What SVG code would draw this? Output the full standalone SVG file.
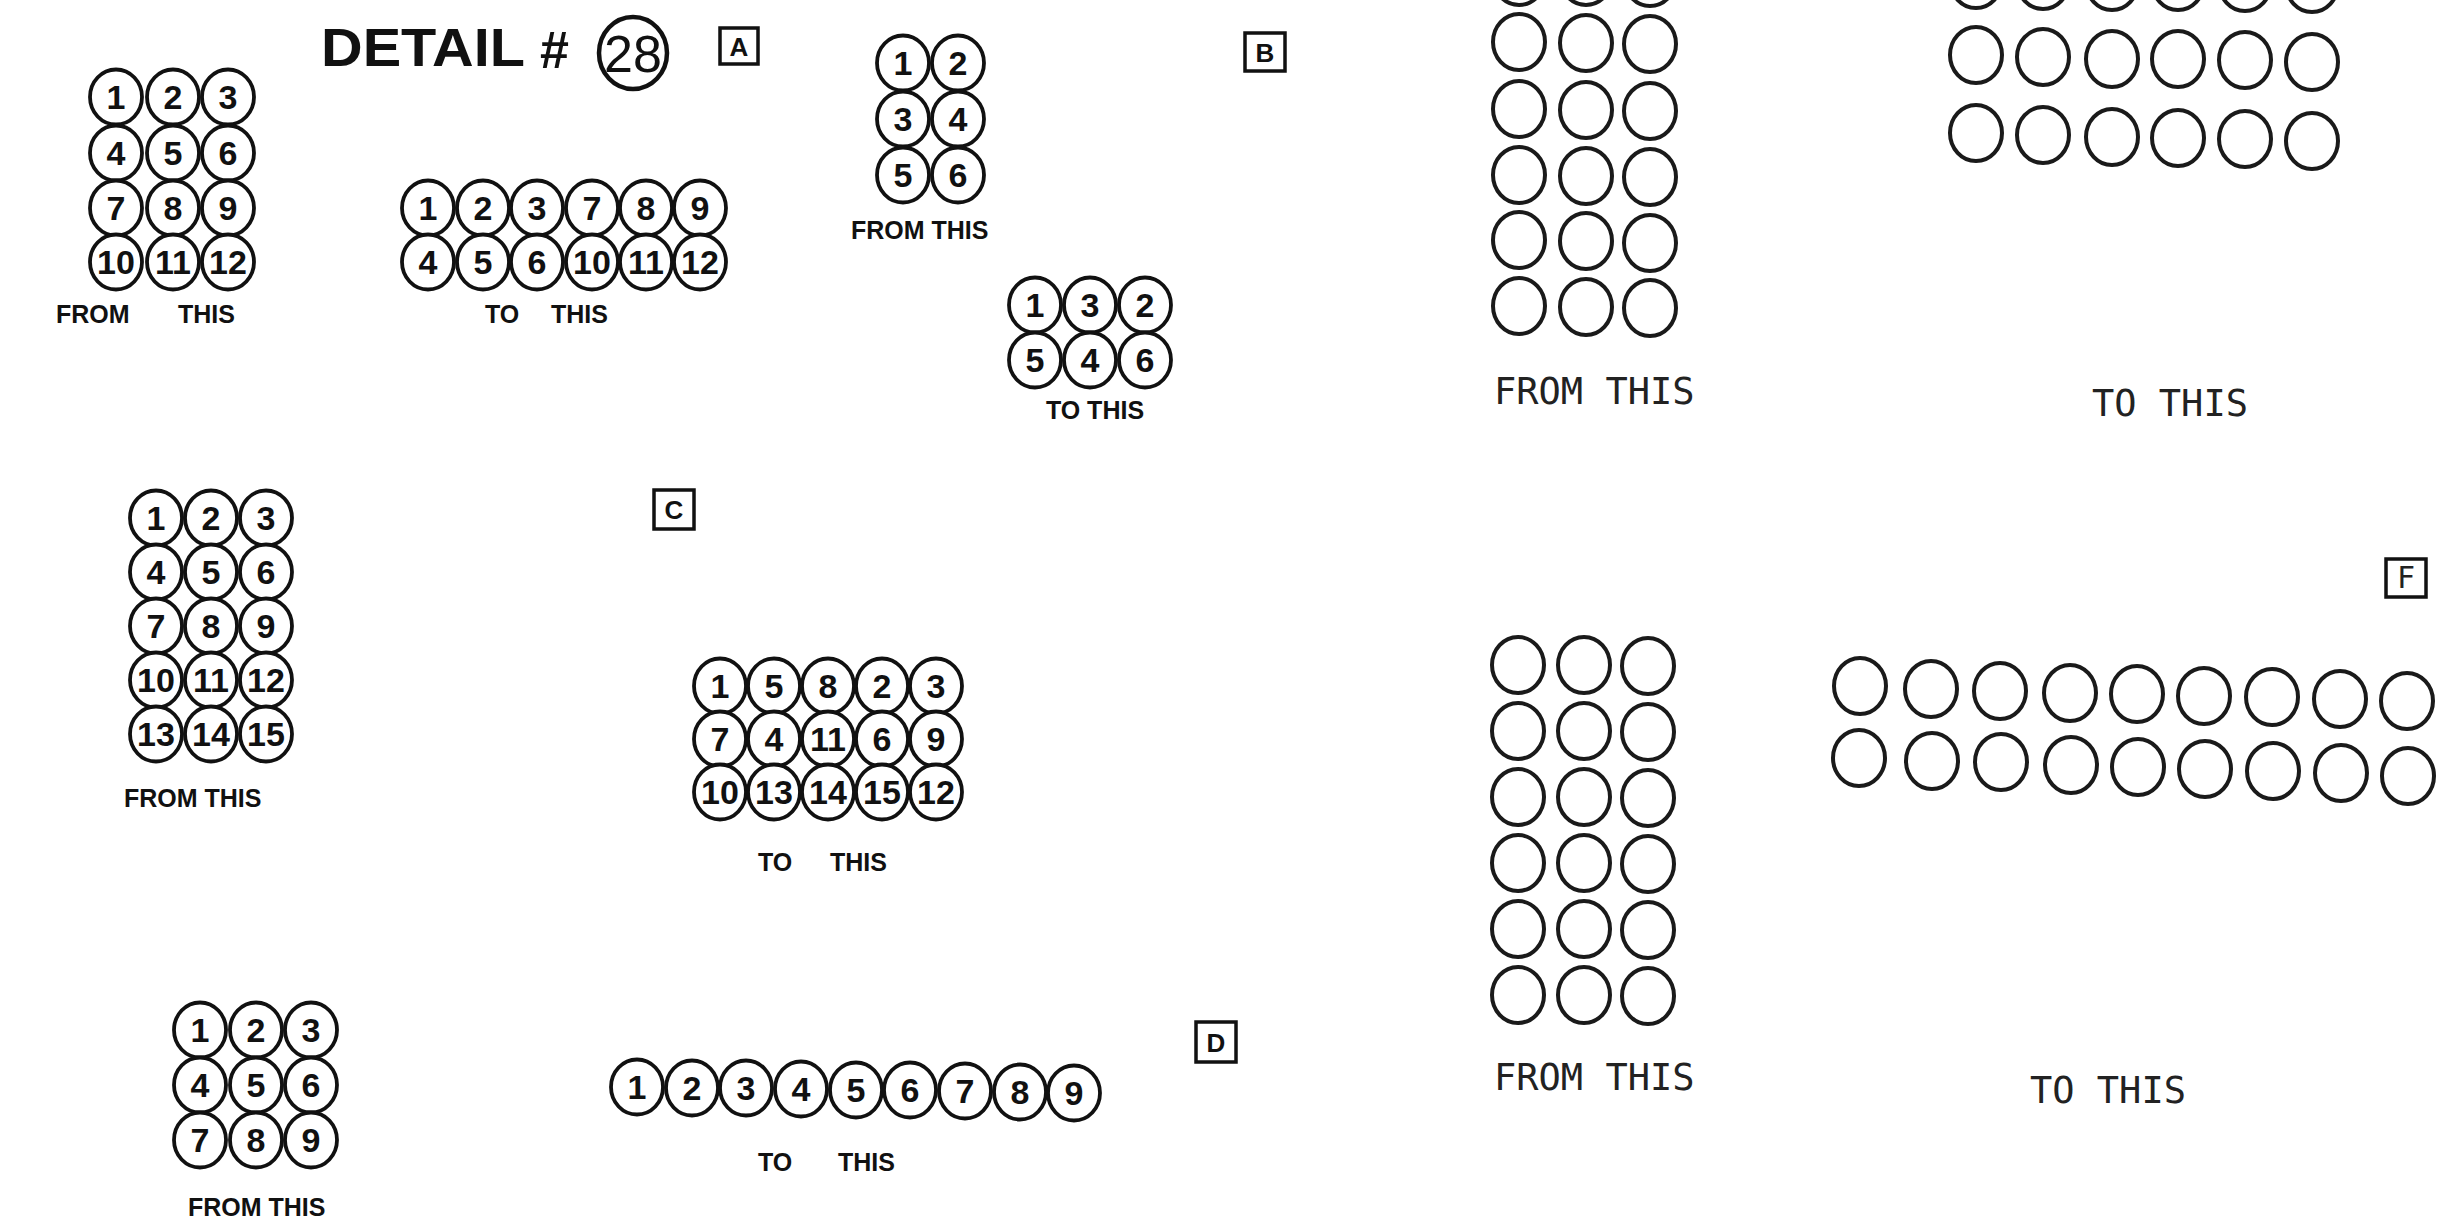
<svg xmlns="http://www.w3.org/2000/svg" width="2457" height="1220" viewBox="0 0 2457 1220">
<style>
.c{fill:#fff;stroke:#111;stroke-width:3.8;rx:26px;ry:27.5px}
.e{fill:none;stroke:#1a1a1a;stroke-width:4;rx:26px;ry:28px}
.n{font-family:"Liberation Sans",Arial,sans-serif;font-weight:bold;font-size:34px;text-anchor:middle;fill:#111}
.lb{font-family:"Liberation Sans",Arial,sans-serif;font-weight:bold;font-size:25px;fill:#111}
.pl{font-family:"DejaVu Sans Mono","Liberation Mono",monospace;font-size:37px;fill:#222}
.bx{fill:none;stroke:#111;stroke-width:3.5}
.bt{font-family:"Liberation Sans",Arial,sans-serif;font-weight:bold;font-size:26px;text-anchor:middle;fill:#111}
</style>
<rect width="2457" height="1220" fill="#fff"/>
<g id="connectors"/>

<g id="title">
<text x="321" y="66" font-family="Liberation Sans,Arial,sans-serif" font-weight="bold" font-size="53" textLength="204" lengthAdjust="spacingAndGlyphs" fill="#111">DETAIL</text>
<text x="540" y="68" font-family="Liberation Sans,Arial,sans-serif" font-weight="bold" font-size="52" fill="#111">#</text>
<ellipse cx="633" cy="53" rx="34" ry="36" fill="none" stroke="#111" stroke-width="4.5"/>
<text x="633" y="72" font-family="Liberation Sans,Arial,sans-serif" font-size="52" text-anchor="middle" fill="#111">28</text>
</g>

<g id="box-a"><rect class="bx" x="720" y="28" width="38" height="36"/><text class="bt" x="739" y="56">A</text></g>
<g id="box-b"><rect class="bx" x="1245" y="33" width="40" height="38"/><text class="bt" x="1265" y="62">B</text></g>
<g id="box-c"><rect class="bx" x="654" y="490" width="40" height="39"/><text class="bt" x="674" y="519">C</text></g>
<g id="box-d"><rect class="bx" x="1196" y="1022" width="40" height="40"/><text class="bt" x="1216" y="1052">D</text></g>
<g id="box-f"><rect class="bx" x="2386" y="559" width="40" height="38" stroke-width="3"/><text x="2406" y="588" font-family="DejaVu Sans Mono,monospace" font-size="30" text-anchor="middle" fill="#222">F</text></g>

<g id="a-from">
<g id="a-from-1"><ellipse class="c" cx="116" cy="97"/><text class="n" x="116" y="109">1</text></g>
<g id="a-from-2"><ellipse class="c" cx="173" cy="97"/><text class="n" x="173" y="109">2</text></g>
<g id="a-from-3"><ellipse class="c" cx="228" cy="97"/><text class="n" x="228" y="109">3</text></g>
<g id="a-from-4"><ellipse class="c" cx="116" cy="153"/><text class="n" x="116" y="165">4</text></g>
<g id="a-from-5"><ellipse class="c" cx="173" cy="153"/><text class="n" x="173" y="165">5</text></g>
<g id="a-from-6"><ellipse class="c" cx="228" cy="153"/><text class="n" x="228" y="165">6</text></g>
<g id="a-from-7"><ellipse class="c" cx="116" cy="208"/><text class="n" x="116" y="220">7</text></g>
<g id="a-from-8"><ellipse class="c" cx="173" cy="208"/><text class="n" x="173" y="220">8</text></g>
<g id="a-from-9"><ellipse class="c" cx="228" cy="208"/><text class="n" x="228" y="220">9</text></g>
<g id="a-from-10"><ellipse class="c" cx="116" cy="262"/><text class="n" x="116" y="274">10</text></g>
<g id="a-from-11"><ellipse class="c" cx="173" cy="262"/><text class="n" x="173" y="274">11</text></g>
<g id="a-from-12"><ellipse class="c" cx="228" cy="262"/><text class="n" x="228" y="274">12</text></g>
<text class="lb" x="56" y="323">FROM</text><text class="lb" x="178" y="323">THIS</text>
</g>

<g id="a-to">
<g id="a-to-1"><ellipse class="c" cx="428" cy="208"/><text class="n" x="428" y="220">1</text></g>
<g id="a-to-2"><ellipse class="c" cx="483" cy="208"/><text class="n" x="483" y="220">2</text></g>
<g id="a-to-3"><ellipse class="c" cx="537" cy="208"/><text class="n" x="537" y="220">3</text></g>
<g id="a-to-7"><ellipse class="c" cx="592" cy="208"/><text class="n" x="592" y="220">7</text></g>
<g id="a-to-8"><ellipse class="c" cx="646" cy="208"/><text class="n" x="646" y="220">8</text></g>
<g id="a-to-9"><ellipse class="c" cx="700" cy="208"/><text class="n" x="700" y="220">9</text></g>
<g id="a-to-4"><ellipse class="c" cx="428" cy="262"/><text class="n" x="428" y="274">4</text></g>
<g id="a-to-5"><ellipse class="c" cx="483" cy="262"/><text class="n" x="483" y="274">5</text></g>
<g id="a-to-6"><ellipse class="c" cx="537" cy="262"/><text class="n" x="537" y="274">6</text></g>
<g id="a-to-10"><ellipse class="c" cx="592" cy="262"/><text class="n" x="592" y="274">10</text></g>
<g id="a-to-11"><ellipse class="c" cx="646" cy="262"/><text class="n" x="646" y="274">11</text></g>
<g id="a-to-12"><ellipse class="c" cx="700" cy="262"/><text class="n" x="700" y="274">12</text></g>
<text class="lb" x="485" y="323">TO</text><text class="lb" x="551" y="323">THIS</text>
</g>

<g id="b-from">
<g id="b-from-1"><ellipse class="c" cx="903" cy="63"/><text class="n" x="903" y="75">1</text></g>
<g id="b-from-2"><ellipse class="c" cx="958" cy="63"/><text class="n" x="958" y="75">2</text></g>
<g id="b-from-3"><ellipse class="c" cx="903" cy="119"/><text class="n" x="903" y="131">3</text></g>
<g id="b-from-4"><ellipse class="c" cx="958" cy="119"/><text class="n" x="958" y="131">4</text></g>
<g id="b-from-5"><ellipse class="c" cx="903" cy="175"/><text class="n" x="903" y="187">5</text></g>
<g id="b-from-6"><ellipse class="c" cx="958" cy="175"/><text class="n" x="958" y="187">6</text></g>
<text class="lb" x="851" y="239" font-size="26">FROM THIS</text>
</g>

<g id="b-to">
<g id="b-to-1"><ellipse class="c" cx="1035" cy="305"/><text class="n" x="1035" y="317">1</text></g>
<g id="b-to-3"><ellipse class="c" cx="1090" cy="305"/><text class="n" x="1090" y="317">3</text></g>
<g id="b-to-2"><ellipse class="c" cx="1145" cy="305"/><text class="n" x="1145" y="317">2</text></g>
<g id="b-to-5"><ellipse class="c" cx="1035" cy="360"/><text class="n" x="1035" y="372">5</text></g>
<g id="b-to-4"><ellipse class="c" cx="1090" cy="360"/><text class="n" x="1090" y="372">4</text></g>
<g id="b-to-6"><ellipse class="c" cx="1145" cy="360"/><text class="n" x="1145" y="372">6</text></g>
<text class="lb" x="1095" y="419" text-anchor="middle">TO THIS</text>
</g>

<g id="c-from">
<g id="c-from-1"><ellipse class="c" cx="156" cy="518"/><text class="n" x="156" y="530">1</text></g>
<g id="c-from-2"><ellipse class="c" cx="211" cy="518"/><text class="n" x="211" y="530">2</text></g>
<g id="c-from-3"><ellipse class="c" cx="266" cy="518"/><text class="n" x="266" y="530">3</text></g>
<g id="c-from-4"><ellipse class="c" cx="156" cy="572"/><text class="n" x="156" y="584">4</text></g>
<g id="c-from-5"><ellipse class="c" cx="211" cy="572"/><text class="n" x="211" y="584">5</text></g>
<g id="c-from-6"><ellipse class="c" cx="266" cy="572"/><text class="n" x="266" y="584">6</text></g>
<g id="c-from-7"><ellipse class="c" cx="156" cy="626"/><text class="n" x="156" y="638">7</text></g>
<g id="c-from-8"><ellipse class="c" cx="211" cy="626"/><text class="n" x="211" y="638">8</text></g>
<g id="c-from-9"><ellipse class="c" cx="266" cy="626"/><text class="n" x="266" y="638">9</text></g>
<g id="c-from-10"><ellipse class="c" cx="156" cy="680"/><text class="n" x="156" y="692">10</text></g>
<g id="c-from-11"><ellipse class="c" cx="211" cy="680"/><text class="n" x="211" y="692">11</text></g>
<g id="c-from-12"><ellipse class="c" cx="266" cy="680"/><text class="n" x="266" y="692">12</text></g>
<g id="c-from-13"><ellipse class="c" cx="156" cy="734"/><text class="n" x="156" y="746">13</text></g>
<g id="c-from-14"><ellipse class="c" cx="211" cy="734"/><text class="n" x="211" y="746">14</text></g>
<g id="c-from-15"><ellipse class="c" cx="266" cy="734"/><text class="n" x="266" y="746">15</text></g>
<text class="lb" x="124" y="807">FROM THIS</text>
</g>

<g id="c-to">
<g id="c-to-1"><ellipse class="c" cx="720" cy="686"/><text class="n" x="720" y="698">1</text></g>
<g id="c-to-5"><ellipse class="c" cx="774" cy="686"/><text class="n" x="774" y="698">5</text></g>
<g id="c-to-8"><ellipse class="c" cx="828" cy="686"/><text class="n" x="828" y="698">8</text></g>
<g id="c-to-2"><ellipse class="c" cx="882" cy="686"/><text class="n" x="882" y="698">2</text></g>
<g id="c-to-3"><ellipse class="c" cx="936" cy="686"/><text class="n" x="936" y="698">3</text></g>
<g id="c-to-7"><ellipse class="c" cx="720" cy="739"/><text class="n" x="720" y="751">7</text></g>
<g id="c-to-4"><ellipse class="c" cx="774" cy="739"/><text class="n" x="774" y="751">4</text></g>
<g id="c-to-11"><ellipse class="c" cx="828" cy="739"/><text class="n" x="828" y="751">11</text></g>
<g id="c-to-6"><ellipse class="c" cx="882" cy="739"/><text class="n" x="882" y="751">6</text></g>
<g id="c-to-9"><ellipse class="c" cx="936" cy="739"/><text class="n" x="936" y="751">9</text></g>
<g id="c-to-10"><ellipse class="c" cx="720" cy="792"/><text class="n" x="720" y="804">10</text></g>
<g id="c-to-13"><ellipse class="c" cx="774" cy="792"/><text class="n" x="774" y="804">13</text></g>
<g id="c-to-14"><ellipse class="c" cx="828" cy="792"/><text class="n" x="828" y="804">14</text></g>
<g id="c-to-15"><ellipse class="c" cx="882" cy="792"/><text class="n" x="882" y="804">15</text></g>
<g id="c-to-12"><ellipse class="c" cx="936" cy="792"/><text class="n" x="936" y="804">12</text></g>
<text class="lb" x="758" y="871">TO</text><text class="lb" x="830" y="871">THIS</text>
</g>

<g id="d-from">
<g id="d-from-1"><ellipse class="c" cx="200" cy="1030"/><text class="n" x="200" y="1042">1</text></g>
<g id="d-from-2"><ellipse class="c" cx="256" cy="1030"/><text class="n" x="256" y="1042">2</text></g>
<g id="d-from-3"><ellipse class="c" cx="311" cy="1030"/><text class="n" x="311" y="1042">3</text></g>
<g id="d-from-4"><ellipse class="c" cx="200" cy="1085"/><text class="n" x="200" y="1097">4</text></g>
<g id="d-from-5"><ellipse class="c" cx="256" cy="1085"/><text class="n" x="256" y="1097">5</text></g>
<g id="d-from-6"><ellipse class="c" cx="311" cy="1085"/><text class="n" x="311" y="1097">6</text></g>
<g id="d-from-7"><ellipse class="c" cx="200" cy="1140"/><text class="n" x="200" y="1152">7</text></g>
<g id="d-from-8"><ellipse class="c" cx="256" cy="1140"/><text class="n" x="256" y="1152">8</text></g>
<g id="d-from-9"><ellipse class="c" cx="311" cy="1140"/><text class="n" x="311" y="1152">9</text></g>
<text class="lb" x="188" y="1216" font-size="26">FROM THIS</text>
</g>

<g id="d-to">
<g id="d-to-1"><ellipse class="c" cx="637" cy="1087"/><text class="n" x="637" y="1099">1</text></g>
<g id="d-to-2"><ellipse class="c" cx="692" cy="1088"/><text class="n" x="692" y="1100">2</text></g>
<g id="d-to-3"><ellipse class="c" cx="746" cy="1088"/><text class="n" x="746" y="1100">3</text></g>
<g id="d-to-4"><ellipse class="c" cx="801" cy="1089"/><text class="n" x="801" y="1101">4</text></g>
<g id="d-to-5"><ellipse class="c" cx="856" cy="1090"/><text class="n" x="856" y="1102">5</text></g>
<g id="d-to-6"><ellipse class="c" cx="910" cy="1090"/><text class="n" x="910" y="1102">6</text></g>
<g id="d-to-7"><ellipse class="c" cx="965" cy="1091"/><text class="n" x="965" y="1103">7</text></g>
<g id="d-to-8"><ellipse class="c" cx="1020" cy="1092"/><text class="n" x="1020" y="1104">8</text></g>
<g id="d-to-9"><ellipse class="c" cx="1074" cy="1093"/><text class="n" x="1074" y="1105">9</text></g>
<text class="lb" x="758" y="1171">TO</text><text class="lb" x="838" y="1171">THIS</text>
</g>

<g id="e-from">
<ellipse class="e" cx="1519" cy="-23"/><ellipse class="e" cx="1586" cy="-23"/><ellipse class="e" cx="1650" cy="-22"/>
<ellipse class="e" cx="1519" cy="42"/><ellipse class="e" cx="1586" cy="43"/><ellipse class="e" cx="1650" cy="44"/>
<ellipse class="e" cx="1519" cy="109"/><ellipse class="e" cx="1586" cy="110"/><ellipse class="e" cx="1650" cy="111"/>
<ellipse class="e" cx="1519" cy="175"/><ellipse class="e" cx="1586" cy="176"/><ellipse class="e" cx="1650" cy="177"/>
<ellipse class="e" cx="1519" cy="240"/><ellipse class="e" cx="1586" cy="241"/><ellipse class="e" cx="1650" cy="243"/>
<ellipse class="e" cx="1519" cy="306"/><ellipse class="e" cx="1586" cy="307"/><ellipse class="e" cx="1650" cy="308"/>
<text class="pl" x="1494" y="404">FROM THIS</text>
</g>

<g id="e-to">
<ellipse class="e" cx="1976" cy="-20"/><ellipse class="e" cx="2043" cy="-19"/><ellipse class="e" cx="2112" cy="-18"/><ellipse class="e" cx="2178" cy="-18"/><ellipse class="e" cx="2245" cy="-17"/><ellipse class="e" cx="2312" cy="-16"/>
<ellipse class="e" cx="1976" cy="55"/><ellipse class="e" cx="2043" cy="57"/><ellipse class="e" cx="2112" cy="59"/><ellipse class="e" cx="2178" cy="59"/><ellipse class="e" cx="2245" cy="60"/><ellipse class="e" cx="2312" cy="62"/>
<ellipse class="e" cx="1976" cy="133"/><ellipse class="e" cx="2043" cy="135"/><ellipse class="e" cx="2112" cy="137"/><ellipse class="e" cx="2178" cy="138"/><ellipse class="e" cx="2245" cy="139"/><ellipse class="e" cx="2312" cy="141"/>
<text class="pl" x="2092" y="416">TO THIS</text>
</g>

<g id="f-from">
<ellipse class="e" cx="1518" cy="665"/><ellipse class="e" cx="1584" cy="665"/><ellipse class="e" cx="1648" cy="666"/>
<ellipse class="e" cx="1518" cy="731"/><ellipse class="e" cx="1584" cy="731"/><ellipse class="e" cx="1648" cy="732"/>
<ellipse class="e" cx="1518" cy="797"/><ellipse class="e" cx="1584" cy="797"/><ellipse class="e" cx="1648" cy="798"/>
<ellipse class="e" cx="1518" cy="863"/><ellipse class="e" cx="1584" cy="863"/><ellipse class="e" cx="1648" cy="864"/>
<ellipse class="e" cx="1518" cy="929"/><ellipse class="e" cx="1584" cy="929"/><ellipse class="e" cx="1648" cy="930"/>
<ellipse class="e" cx="1518" cy="995"/><ellipse class="e" cx="1584" cy="995"/><ellipse class="e" cx="1648" cy="996"/>
<text class="pl" x="1494" y="1090">FROM THIS</text>
</g>

<g id="f-to">
<ellipse class="e" cx="1860" cy="686"/><ellipse class="e" cx="1931" cy="689"/><ellipse class="e" cx="2000" cy="691"/><ellipse class="e" cx="2070" cy="693"/><ellipse class="e" cx="2137" cy="694"/><ellipse class="e" cx="2204" cy="696"/><ellipse class="e" cx="2272" cy="697"/><ellipse class="e" cx="2340" cy="699"/><ellipse class="e" cx="2407" cy="701"/>
<ellipse class="e" cx="1859" cy="758"/><ellipse class="e" cx="1932" cy="761"/><ellipse class="e" cx="2001" cy="762"/><ellipse class="e" cx="2071" cy="765"/><ellipse class="e" cx="2138" cy="767"/><ellipse class="e" cx="2205" cy="769"/><ellipse class="e" cx="2273" cy="771"/><ellipse class="e" cx="2341" cy="773"/><ellipse class="e" cx="2408" cy="776"/>
<text class="pl" x="2030" y="1103">TO THIS</text>
</g>
</svg>
